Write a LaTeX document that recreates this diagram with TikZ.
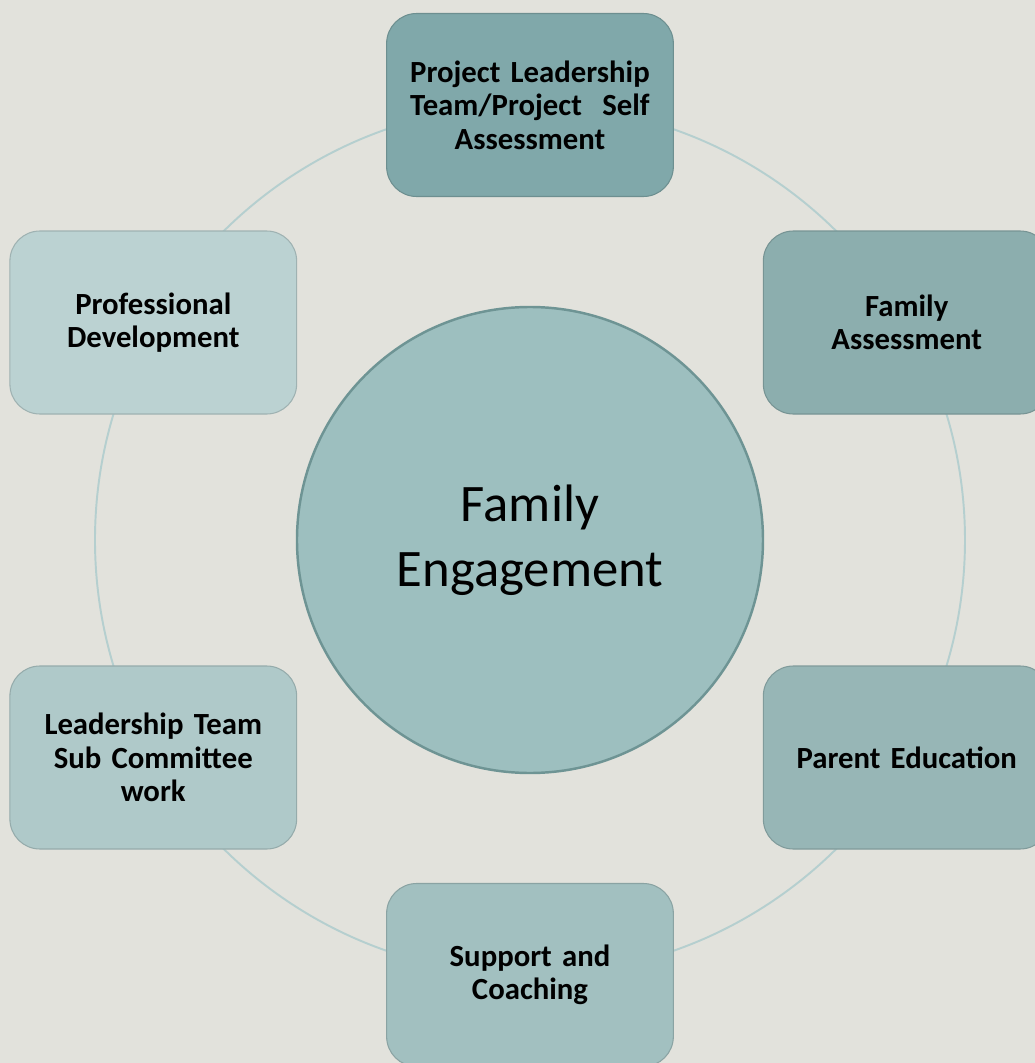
\documentclass[tikz,border=0pt]{standalone}
\usepackage{fontspec}
\setmainfont{Carlito}[WordSpace=0.8]
\usepackage{tikz}

\definecolor{bgcol}{HTML}{E2E2DC}
\definecolor{ringcol}{HTML}{B5CFCF}
\definecolor{hubcol}{HTML}{9DBFBF}
\definecolor{hubline}{HTML}{6E9494}
\definecolor{c1}{HTML}{80A8AA}
\definecolor{c2}{HTML}{8CAEAE}
\definecolor{c3}{HTML}{97B6B6}
\definecolor{c4}{HTML}{A2C0C0}
\definecolor{c5}{HTML}{AFC9C9}
\definecolor{c6}{HTML}{BBD2D2}

\begin{document}
\begin{tikzpicture}[stage/.style={rounded corners=0.6cm, minimum width=5.7cm, minimum height=3.66cm,
    fill=#1, draw=#1!85!black, line width=0.6pt, align=center, text width=5.5cm,
    font=\bfseries\fontsize{17.5}{19}\selectfont},
  hub/.style={circle, minimum size=9.32cm, fill=hubcol, draw=hubline, line width=1.4pt,
    align=center, font=\fontsize{30}{37}\selectfont}]
\fill[bgcol] (-10.6,-10.46) rectangle (10.1,10.8);
\useasboundingbox (-10.6,-10.46) rectangle (10.1,10.8);

\node[hub] (fe) at (0,0) {Family\\Engagement};
\draw[ringcol, line width=1.1pt] (fe) circle (8.7);

\node[stage=c1] (pl) at (90:8.7) {Project Leadership\\Team/Project\ \ Self\\Assessment};
\node[stage=c2] (fa) at (30:8.7) {Family\\Assessment};
\node[stage=c3] (pe) at (-30:8.7) {Parent Education};
\node[stage=c4] (sc) at (-90:8.7) {Support and\\Coaching};
\node[stage=c5] (lt) at (210:8.7) {Leadership Team\\Sub Committee\\work};
\node[stage=c6] (pd) at (150:8.7) {Professional\\Development};
\end{tikzpicture}
\end{document}
